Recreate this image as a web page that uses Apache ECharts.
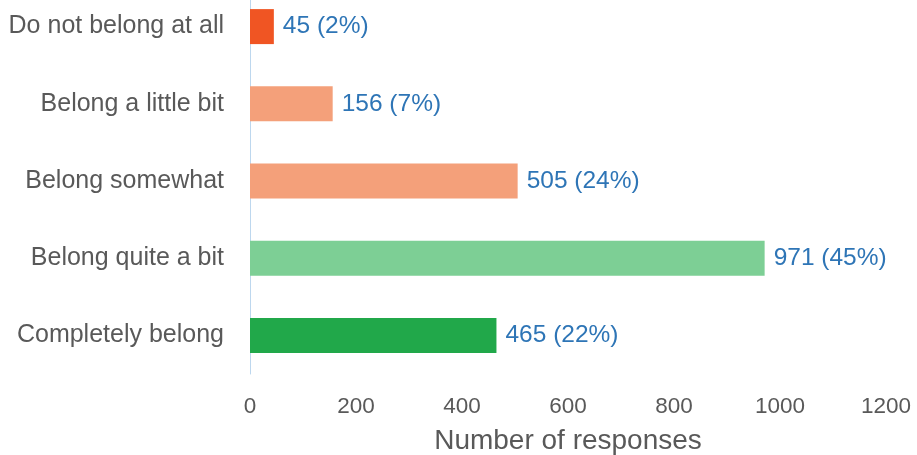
<!DOCTYPE html>
<html>
<head>
<meta charset="utf-8">
<script src="https://cdn.jsdelivr.net/npm/echarts@6/dist/echarts.min.js"></script>
<style>
  html, body { margin: 0; padding: 0; background: #fff; }
  #chart { width: 917px; height: 455px; }
</style>
</head>
<body>
<div id="chart"></div>
<script>
// data, top to bottom
const categories = ['Do not belong at all', 'Belong a little bit', 'Belong somewhat', 'Belong quite a bit', 'Completely belong']
const responses = [45, 156, 505, 971, 465]
const percents = ['2%', '7%', '24%', '45%', '22%']
const barColors = ['#F05523', '#F4A07A', '#F4A07A', '#7DCF95', '#21A84A']

let myChart = echarts.init(document.getElementById('chart'))

let option = {
  animation: false,
  textStyle: {fontFamily: 'Liberation Sans, Arial, sans-serif'},
  grid: {
    left: 250,
    right: 31,
    top: -12,
    height: 386,
    outerBoundsMode: 'none', //v6 默认会把标签收进容器，这里关掉
    containLabel: false
  },
  xAxis: {
    type: 'value',
    min: 0,
    max: 1200,
    interval: 200,
    name: 'Number of responses',
    nameLocation: 'middle',
    nameGap: 53,
    nameTextStyle: {fontSize: 28, color: '#595959'},
    axisLine: {show: false},
    axisTick: {show: false},
    splitLine: {show: false},
    axisLabel: {fontSize: 22.5, color: '#595959', margin: 21, formatter: v => String(v)}
  },
  yAxis: {
    type: 'category',
    inverse: true,
    data: categories,
    axisLine: {show: true, lineStyle: {color: '#BDD7EE', width: 1}},
    axisTick: {show: false},
    axisLabel: {fontSize: 25, color: '#595959', margin: 26}
  },
  series: [
    {
      type: 'bar',
      barWidth: 35,
      data: responses.map((v, i) => ({value: v, itemStyle: {color: barColors[i]}})),
      label: {
        show: true,
        position: 'right',
        distance: 9,
        fontSize: 24.5,
        color: '#2E75B6',
        formatter: p => p.value + ' (' + percents[p.dataIndex] + ')'
      }
    }
  ]
}

myChart.setOption(option)
</script>
</body>
</html>
